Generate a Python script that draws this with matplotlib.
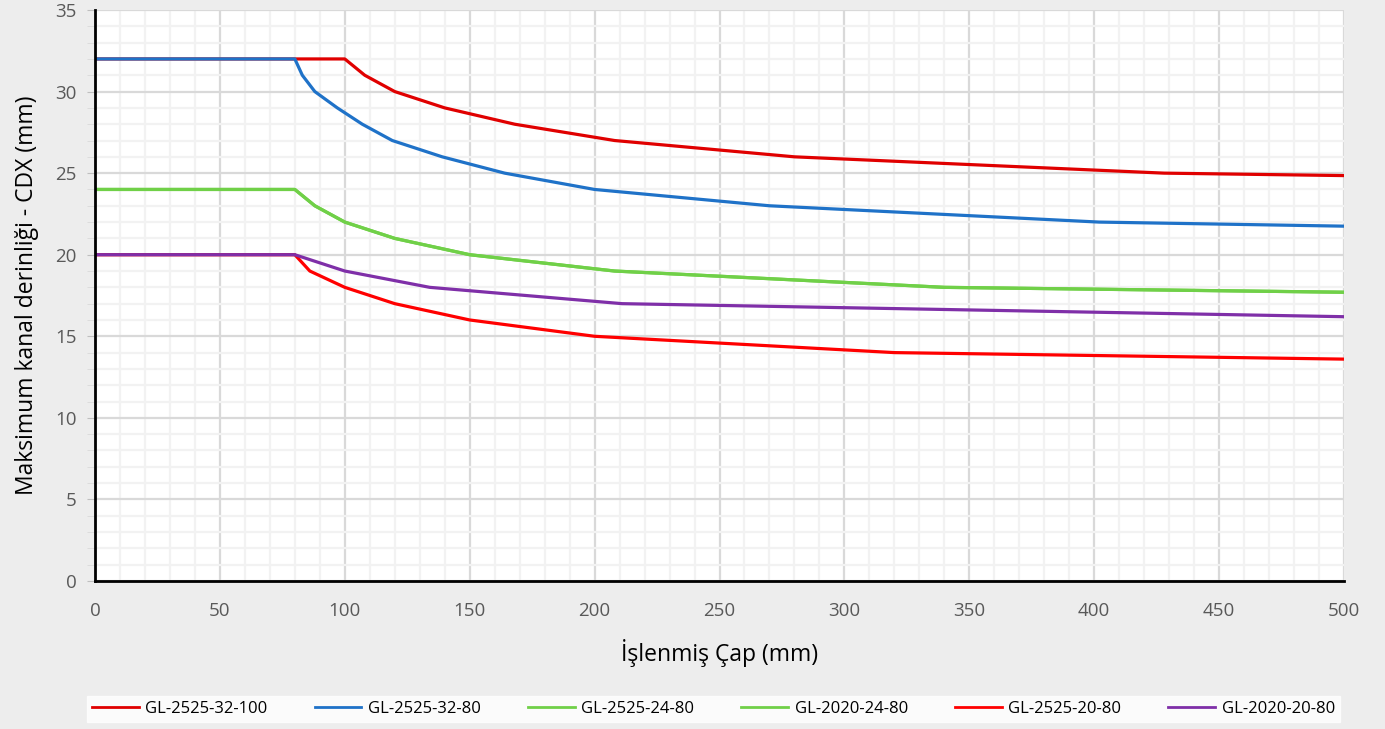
import matplotlib.pyplot as plt
from matplotlib.ticker import MultipleLocator

plt.rcParams['font.family'] = ['Open Sans', 'DejaVu Sans']

# Data
x_32_100 = [0, 100, 108, 120, 140, 168, 208, 280, 428, 500]
y_32_100 = [32, 32, 31, 30, 29, 28, 27, 26, 25, 24.85]

x_32_80 = [0, 80, 83, 88, 97, 107, 119, 139, 164, 200, 270, 402, 500]
y_32_80 = [32, 32, 31, 30, 29, 28, 27, 26, 25, 24, 23, 22, 21.75]

x_24_80 = [0, 80, 88, 100, 120, 150, 208, 340, 500]
y_24_80 = [24, 24, 23, 22, 21, 20, 19, 18, 17.7]

x_20_80_red = [0, 80, 86, 100, 120, 150, 200, 320, 500]
y_20_80_red = [20, 20, 19, 18, 17, 16, 15, 14, 13.6]

x_20_80_purple = [0, 80, 100, 134, 211, 500]
y_20_80_purple = [20, 20, 19, 18, 17, 16.2]

labels = ["GL-2525-32-100", "GL-2525-32-80", "GL-2525-24-80",
          "GL-2020-24-80", "GL-2525-20-80", "GL-2020-20-80"]

bg = "#EDEDED"
fig = plt.figure(figsize=(13.85, 7.29), dpi=100, facecolor=bg)
ax = fig.add_axes([95/1385, 1 - 581/729, (1344 - 95)/1385, (581 - 10)/729])
ax.set_facecolor("white")

lw = 2.3
ax.plot(x_32_100, y_32_100, color="#E00000", lw=lw, label=labels[0])
ax.plot(x_32_80, y_32_80, color="#1F72C8", lw=lw, label=labels[1])
ax.plot(x_24_80, y_24_80, color="#70D048", lw=lw, label=labels[2])
ax.plot(x_24_80, y_24_80, color="#70D048", lw=lw, label=labels[3])
ax.plot(x_20_80_red, y_20_80_red, color="#FF0000", lw=lw, label=labels[4])
ax.plot(x_20_80_purple, y_20_80_purple, color="#7F2FA8", lw=lw, label=labels[5])

ax.set_xlim(0, 500)
ax.set_ylim(0, 35)
ax.xaxis.set_major_locator(MultipleLocator(50))
ax.xaxis.set_minor_locator(MultipleLocator(10))
ax.yaxis.set_major_locator(MultipleLocator(5))
ax.yaxis.set_minor_locator(MultipleLocator(1))

ax.grid(which="major", color="#D9D9D9", lw=1.6)
ax.grid(which="minor", color="#F2F2F2", lw=1.6)
ax.set_axisbelow(True)

for s in ["top", "right"]:
    ax.spines[s].set_visible(False)
ax.spines["left"].set_color("black")
ax.spines["left"].set_linewidth(2)
ax.spines["bottom"].set_color("black")
ax.spines["bottom"].set_linewidth(2)

ax.tick_params(axis="x", which="both", length=0, pad=15, labelsize=13.5, labelcolor="#595959")
ax.tick_params(axis="y", which="major", length=6, color="#BFBFBF", pad=7, labelsize=13.5, labelcolor="#595959")
ax.tick_params(axis="y", which="minor", length=6, color="#D9D9D9")

ax.set_xlabel("İşlenmiş Çap (mm)", fontsize=16.5, labelpad=14)
ax.set_ylabel("Maksimum kanal derinliği - CDX (mm)", fontsize=16.5, labelpad=12)

leg = fig.legend(loc="lower left", ncol=6, mode="expand",
                 bbox_to_anchor=(87/1385, 7/729, 1253/1385, 30/729),
                 fontsize=12, frameon=True, fancybox=False, handlelength=2.8,
                 handletextpad=0.4, borderaxespad=0, borderpad=0.3)
leg.get_frame().set_facecolor("white")
leg.get_frame().set_edgecolor("white")
for line in leg.get_lines():
    line.set_linewidth(2)

fig.savefig("out.png", dpi=100, facecolor=bg)
